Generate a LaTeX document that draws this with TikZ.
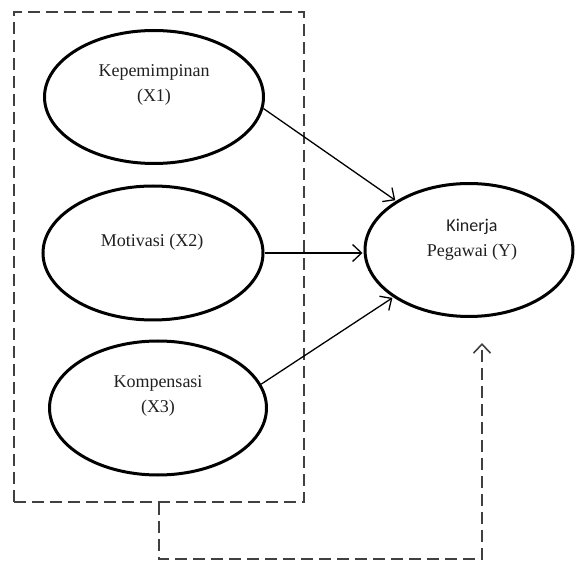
\documentclass[tikz,border=0pt]{standalone}
\usepackage{fontspec}
\setmainfont{Liberation Serif}
\newfontfamily\calib{Carlito}
\usetikzlibrary{arrows.meta,shapes.geometric}
\definecolor{dash}{HTML}{404040}
\definecolor{txt}{HTML}{202020}
\tikzset{
  var/.style={draw=black, line width=3pt, ellipse, inner sep=0pt},
  lbl/.style={text=txt, align=center, font=\fontsize{18}{25}\selectfont, inner sep=0pt},
  path/.style={line width=1.3pt, -{Straight Barb[length=9pt,width=17pt,line width=1.3pt]}},
  dashline/.style={draw=dash, line width=1.6pt, dash pattern=on 12pt off 6pt},
}
\begin{document}
\begin{tikzpicture}[x=1pt,y=-1pt]
\useasboundingbox (0,0) rectangle (576,561);
\node[dashline, rectangle, minimum width=290pt, minimum height=490pt, inner sep=0pt] (box) at (159,257) {};
\node[var, minimum width=219pt, minimum height=133pt] (x1) at (154,97) {};
\node[var, minimum width=220pt, minimum height=134pt] (x2) at (153,253) {};
\node[var, minimum width=217pt, minimum height=134pt] (x3) at (158,408) {};
\node[var, minimum width=208pt, minimum height=133pt] (y) at (469,250) {};
\node[lbl] (t1) at (154,85) {Kepemimpinan\\(X1)};
\node[lbl] (t2) at (152,242) {Motivasi (X2)};
\node[lbl] (t3) at (158,396) {Kompensasi\\(X3)};
\node[lbl] (t4) at (472,240) {{\calib Kinerja}\\Pegawai (Y)};
\draw[path, shorten >=1pt] (x1.-6) -- (y.146);
\draw[path, shorten >=1pt] (x2.east) -- (x2.east -| y.west);
\draw[path, shorten >=1pt] (x3.13) -- (y.212);
\coordinate (tip) at (482,343);
\draw[dashline, -{Straight Barb[length=9pt,width=17pt,line width=1.6pt]}] (box.south) -- ++(0,56) -| (tip);
\end{tikzpicture}
\end{document}
